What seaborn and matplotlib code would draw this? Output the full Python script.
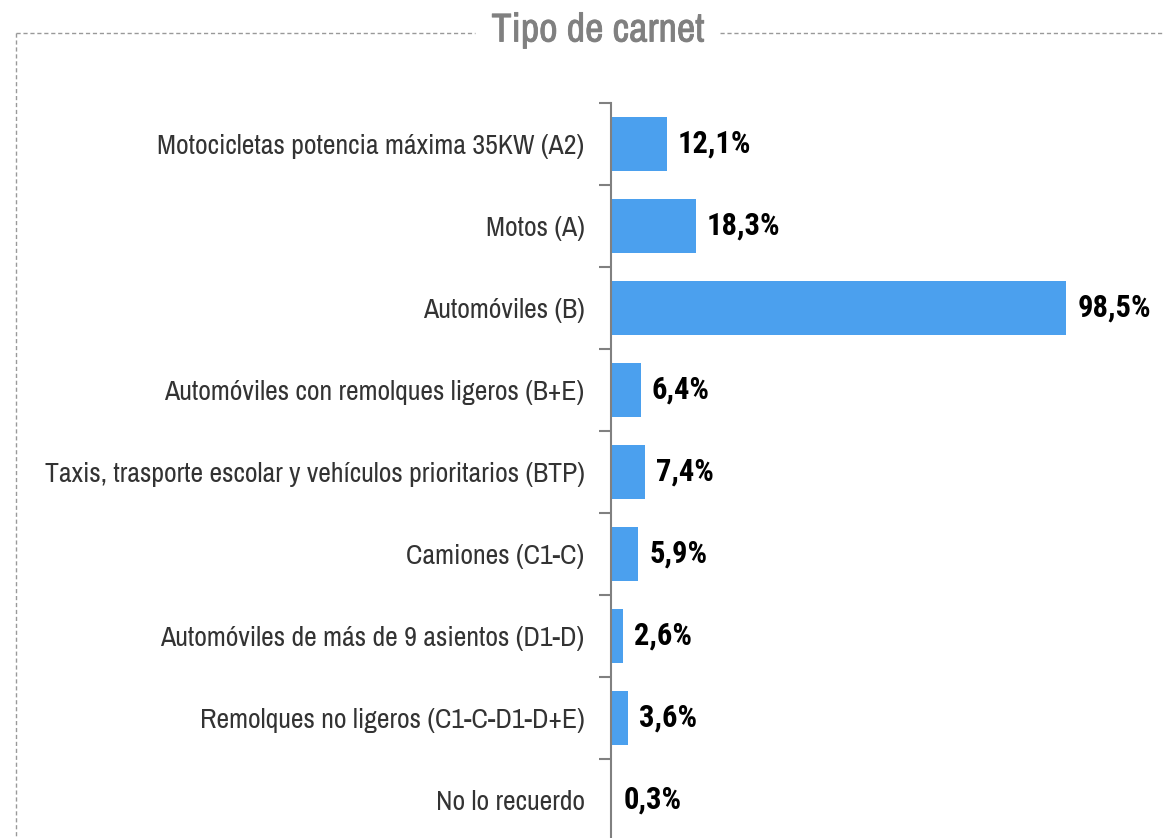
import matplotlib
matplotlib.use('Agg')
import matplotlib.pyplot as plt
import matplotlib.patheffects as pe
import seaborn as sns
import pandas as pd
from matplotlib.lines import Line2D


categories = [
    'Motocicletas potencia máxima 35KW (A2)',
    'Motos (A)',
    'Automóviles (B)',
    'Automóviles con remolques ligeros (B+E)',
    'Taxis, trasporte escolar y vehículos prioritarios (BTP)',
    'Camiones (C1-C)',
    'Automóviles de más de 9 asientos (D1-D)',
    'Remolques no ligeros (C1-C-D1-D+E)',
    'No lo recuerdo',
]
values = [12.1, 18.3, 98.5, 6.4, 7.4, 5.9, 2.6, 3.6, 0.3]
value_labels = ['12,1%', '18,3%', '98,5%', '6,4%', '7,4%', '5,9%', '2,6%', '3,6%', '0,3%']
title = 'Tipo de carnet'

sns.set_style('white')
plt.rcParams['font.family'] = ['Archivo Narrow', 'Liberation Sans', 'DejaVu Sans']
value_font = ['Roboto Condensed', 'Archivo Narrow', 'DejaVu Sans']

W, H = 1163, 838
fig = plt.figure(figsize=(W / 100, H / 100), dpi=100)
ax = fig.add_axes([611 / W, 1 - 841 / H, 550 / W, 738 / H])

df = pd.DataFrame({'tipo': categories, 'pct': values})
sns.barplot(data=df, x='pct', y='tipo', color='#4BA0EE', saturation=1,
            width=0.65, linewidth=0, ax=ax)

ax.set_xlim(0, 119)
ax.set_ylim(len(categories) - 0.5, -0.5)
ax.set_xlabel('')
ax.set_ylabel('')
ax.xaxis.set_visible(False)
for side in ['top', 'right', 'bottom']:
    ax.spines[side].set_visible(False)
ax.spines['left'].set_color('#808080')
ax.spines['left'].set_linewidth(1.5)

# category labels at the centres, tick marks between categories
ax.set_yticks(range(len(categories)))
ax.set_yticklabels(categories, fontsize=20, color='#333333')
ax.tick_params(axis='y', which='major', left=False, length=0, pad=19)
ax.set_yticks([i - 0.5 for i in range(len(categories) + 1)], minor=True)
ax.tick_params(axis='y', which='minor', left=True, length=9, width=1.5,
               color='#808080')

for i, (v, lbl) in enumerate(zip(values, value_labels)):
    ax.annotate(lbl, (v, i), xytext=(8, 0), textcoords='offset points',
                va='center', ha='left', fontsize=22, fontweight='bold',
                color='black', family=value_font)

# dashed frame around the chart, broken by the title
frame = dict(color='#999999', linewidth=1, linestyle=(0, (3, 2)))
fig.add_artist(Line2D([16 / W, 475 / W], [1 - 33 / H, 1 - 33 / H], **frame))
fig.add_artist(Line2D([720 / W, 1], [1 - 33 / H, 1 - 33 / H], **frame))
fig.add_artist(Line2D([16 / W, 16 / W], [1 - 33 / H, 0], **frame))
fig.text(598 / W, 1 - 30 / H, title, ha='center', va='center',
         fontsize=29, fontweight='bold', color='#808080',
         path_effects=[pe.withStroke(linewidth=0.6, foreground='#808080')])

fig.savefig('out.png', dpi=100)
